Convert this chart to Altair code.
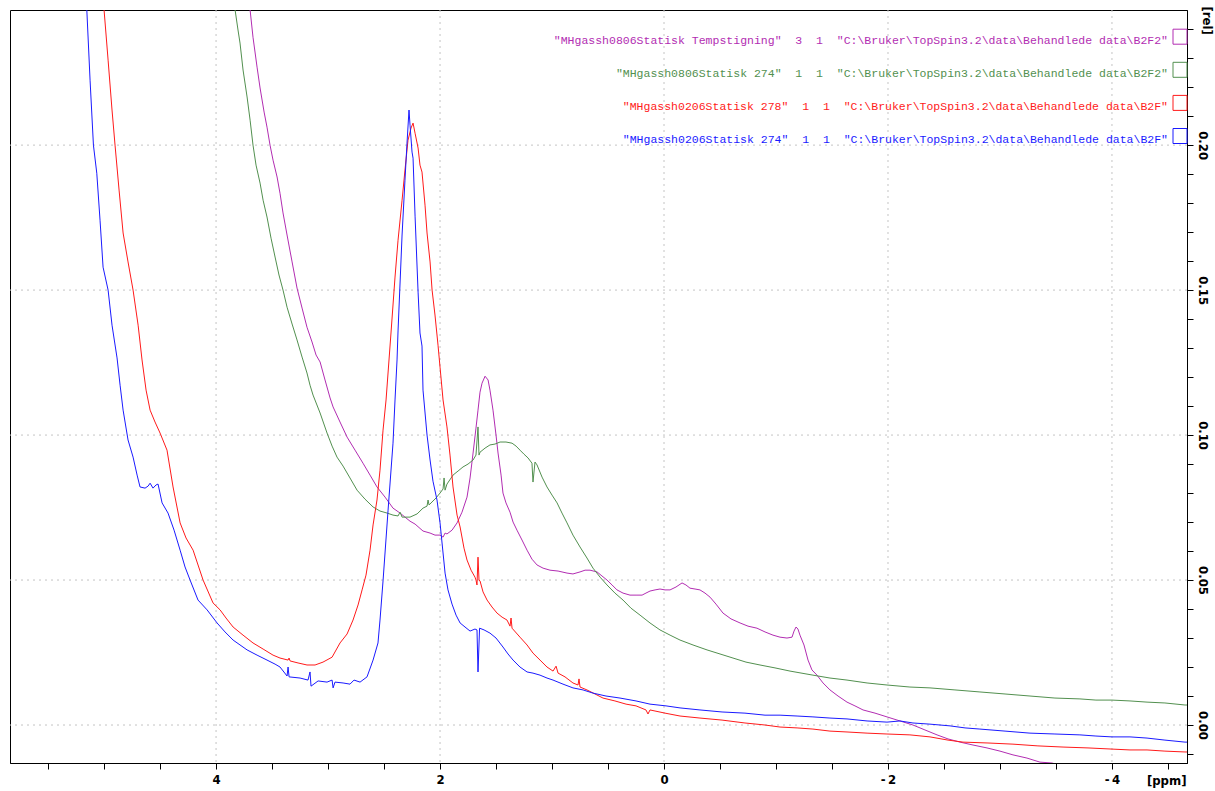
import altair as alt
import pandas as pd

# Spectra: (chemical shift in ppm, relative intensity)
magenta = [
    (3.714, 0.2603), (3.696, 0.2466), (3.670, 0.2372), (3.634, 0.2269), (3.607, 0.2197), (3.571, 0.2114),
    (3.545, 0.2062), (3.518, 0.2000), (3.491, 0.1948), (3.455, 0.1890), (3.429, 0.1834), (3.402, 0.1766),
    (3.366, 0.1690), (3.321, 0.1597), (3.277, 0.1507), (3.232, 0.1438), (3.188, 0.1372), (3.143, 0.1321),
    (3.107, 0.1276), (3.071, 0.1252), (3.027, 0.1190), (2.982, 0.1128), (2.955, 0.1097), (2.893, 0.1045),
    (2.830, 0.0993), (2.759, 0.0948), (2.688, 0.0903), (2.625, 0.0862), (2.563, 0.0821), (2.491, 0.0786),
    (2.420, 0.0748), (2.357, 0.0731), (2.313, 0.0717), (2.268, 0.0703), (2.223, 0.0693), (2.152, 0.0669),
    (2.089, 0.0662), (2.045, 0.0655), (2.000, 0.0655), (1.973, 0.0648), (1.955, 0.0662), (1.938, 0.0659),
    (1.893, 0.0672), (1.848, 0.0697), (1.804, 0.0734), (1.759, 0.0786), (1.732, 0.0852), (1.705, 0.0938),
    (1.679, 0.1024), (1.661, 0.1086), (1.643, 0.1148), (1.625, 0.1179), (1.598, 0.1203), (1.571, 0.1190),
    (1.554, 0.1155), (1.527, 0.1086), (1.500, 0.1000), (1.482, 0.0938), (1.455, 0.0862), (1.438, 0.0800),
    (1.411, 0.0766), (1.375, 0.0734), (1.348, 0.0700), (1.313, 0.0672), (1.268, 0.0638), (1.223, 0.0603),
    (1.179, 0.0572), (1.134, 0.0552), (1.080, 0.0541), (1.018, 0.0534), (0.946, 0.0531), (0.866, 0.0524),
    (0.813, 0.0521), (0.750, 0.0528), (0.705, 0.0534), (0.661, 0.0534), (0.598, 0.0528), (0.554, 0.0514),
    (0.509, 0.0500), (0.464, 0.0483), (0.420, 0.0466), (0.366, 0.0455), (0.304, 0.0448), (0.250, 0.0448),
    (0.196, 0.0448), (0.161, 0.0455), (0.125, 0.0462), (0.080, 0.0466), (0.036, 0.0469), (-0.009, 0.0466),
    (-0.054, 0.0466), (-0.107, 0.0476), (-0.161, 0.0490), (-0.196, 0.0483), (-0.232, 0.0472), (-0.277, 0.0469),
    (-0.321, 0.0466), (-0.366, 0.0455), (-0.411, 0.0441), (-0.464, 0.0417), (-0.527, 0.0386), (-0.598, 0.0366),
    (-0.679, 0.0352), (-0.750, 0.0341), (-0.830, 0.0334), (-0.902, 0.0321), (-0.973, 0.0310), (-1.036, 0.0303),
    (-1.098, 0.0300), (-1.143, 0.0303), (-1.161, 0.0324), (-1.179, 0.0338), (-1.196, 0.0331), (-1.214, 0.0310),
    (-1.250, 0.0276), (-1.286, 0.0224), (-1.321, 0.0190), (-1.366, 0.0172), (-1.420, 0.0145), (-1.482, 0.0121),
    (-1.554, 0.0100), (-1.634, 0.0079), (-1.705, 0.0066), (-1.777, 0.0052), (-1.884, 0.0041), (-1.991, 0.0028),
    (-2.107, 0.0014), (-2.223, 0.0000), (-2.330, -0.0017), (-2.438, -0.0034), (-2.536, -0.0048), (-2.643, -0.0059),
    (-2.759, -0.0069), (-2.884, -0.0079), (-3.000, -0.0090), (-3.116, -0.0103), (-3.241, -0.0114), (-3.357, -0.0128),
    (-3.464, -0.0131), (-3.625, -0.0148), (-3.893, -0.0176),
]

green = [
    (3.848, 0.2603), (3.830, 0.2466), (3.804, 0.2397), (3.786, 0.2352), (3.759, 0.2259), (3.723, 0.2166),
    (3.696, 0.2086), (3.670, 0.2000), (3.643, 0.1931), (3.607, 0.1869), (3.580, 0.1810), (3.545, 0.1752),
    (3.509, 0.1679), (3.473, 0.1614), (3.438, 0.1552), (3.402, 0.1500), (3.366, 0.1441), (3.321, 0.1383),
    (3.277, 0.1328), (3.232, 0.1269), (3.188, 0.1214), (3.161, 0.1172), (3.134, 0.1138), (3.071, 0.1076),
    (3.009, 0.1007), (2.964, 0.0962), (2.920, 0.0924), (2.866, 0.0893), (2.804, 0.0852), (2.741, 0.0810),
    (2.670, 0.0779), (2.598, 0.0752), (2.536, 0.0738), (2.473, 0.0731), (2.420, 0.0724), (2.375, 0.0721),
    (2.357, 0.0734), (2.339, 0.0717), (2.268, 0.0717), (2.205, 0.0728), (2.152, 0.0748), (2.116, 0.0755),
    (2.107, 0.0776), (2.098, 0.0759), (2.036, 0.0783), (2.000, 0.0800), (1.973, 0.0814), (1.964, 0.0852),
    (1.955, 0.0810), (1.938, 0.0831), (1.884, 0.0862), (1.839, 0.0876), (1.795, 0.0890), (1.750, 0.0900),
    (1.705, 0.0914), (1.679, 0.0931), (1.661, 0.1028), (1.652, 0.0931), (1.643, 0.0941), (1.598, 0.0955),
    (1.554, 0.0966), (1.509, 0.0969), (1.464, 0.0976), (1.411, 0.0976), (1.357, 0.0972), (1.321, 0.0962),
    (1.286, 0.0948), (1.250, 0.0934), (1.214, 0.0921), (1.179, 0.0903), (1.170, 0.0838), (1.152, 0.0907),
    (1.134, 0.0897), (1.089, 0.0855), (1.045, 0.0821), (1.000, 0.0793), (0.955, 0.0766), (0.911, 0.0731),
    (0.866, 0.0697), (0.813, 0.0655), (0.750, 0.0614), (0.688, 0.0576), (0.634, 0.0541), (0.571, 0.0510),
    (0.509, 0.0483), (0.438, 0.0455), (0.366, 0.0431), (0.295, 0.0403), (0.214, 0.0379), (0.125, 0.0352),
    (0.036, 0.0328), (-0.054, 0.0310), (-0.143, 0.0293), (-0.259, 0.0276), (-0.384, 0.0259), (-0.500, 0.0245),
    (-0.616, 0.0231), (-0.732, 0.0217), (-0.857, 0.0207), (-0.991, 0.0197), (-1.125, 0.0186), (-1.330, 0.0172),
    (-1.482, 0.0162), (-1.634, 0.0155), (-1.813, 0.0145), (-1.991, 0.0138), (-2.196, 0.0131), (-2.375, 0.0128),
    (-2.598, 0.0121), (-2.821, 0.0114), (-3.045, 0.0107), (-3.268, 0.0100), (-3.491, 0.0093), (-3.714, 0.0090),
    (-3.857, 0.0086), (-4.000, 0.0086), (-4.161, 0.0083), (-4.313, 0.0079), (-4.473, 0.0076), (-4.652, 0.0069),
    (-4.700, 0.0069),
]

red = [
    (5.018, 0.2603), (5.000, 0.2466), (4.964, 0.2293), (4.929, 0.2121), (4.902, 0.2000), (4.866, 0.1845),
    (4.830, 0.1697), (4.786, 0.1597), (4.741, 0.1500), (4.696, 0.1379), (4.661, 0.1259), (4.625, 0.1155),
    (4.589, 0.1086), (4.545, 0.1045), (4.500, 0.1007), (4.438, 0.0948), (4.384, 0.0821), (4.321, 0.0697),
    (4.268, 0.0645), (4.205, 0.0603), (4.116, 0.0500), (4.027, 0.0421), (3.964, 0.0397), (3.911, 0.0369),
    (3.848, 0.0338), (3.759, 0.0310), (3.670, 0.0283), (3.580, 0.0262), (3.491, 0.0241), (3.429, 0.0231),
    (3.357, 0.0224), (3.348, 0.0231), (3.339, 0.0221), (3.268, 0.0214), (3.188, 0.0207), (3.116, 0.0207),
    (3.045, 0.0217), (2.964, 0.0234), (2.893, 0.0283), (2.830, 0.0314), (2.777, 0.0362), (2.732, 0.0414),
    (2.696, 0.0466), (2.661, 0.0517), (2.625, 0.0603), (2.598, 0.0690), (2.563, 0.0776), (2.536, 0.0879),
    (2.509, 0.1017), (2.482, 0.1121), (2.438, 0.1352), (2.402, 0.1545), (2.375, 0.1672), (2.339, 0.1810),
    (2.313, 0.1914), (2.286, 0.2017), (2.259, 0.2059), (2.241, 0.2076), (2.223, 0.2041), (2.196, 0.1990),
    (2.179, 0.1931), (2.161, 0.1907), (2.134, 0.1793), (2.116, 0.1697), (2.089, 0.1597), (2.071, 0.1500),
    (2.045, 0.1414), (2.018, 0.1310), (2.000, 0.1234), (1.973, 0.1121), (1.938, 0.1028), (1.911, 0.0931),
    (1.884, 0.0821), (1.848, 0.0724), (1.821, 0.0683), (1.786, 0.0610), (1.759, 0.0569), (1.723, 0.0534),
    (1.688, 0.0510), (1.679, 0.0500), (1.670, 0.0483), (1.661, 0.0579), (1.652, 0.0500), (1.643, 0.0497),
    (1.616, 0.0459), (1.580, 0.0431), (1.536, 0.0407), (1.491, 0.0386), (1.446, 0.0372), (1.402, 0.0362),
    (1.375, 0.0341), (1.366, 0.0369), (1.357, 0.0334), (1.286, 0.0303), (1.223, 0.0276), (1.170, 0.0248),
    (1.107, 0.0224), (1.045, 0.0200), (0.991, 0.0186), (0.964, 0.0203), (0.946, 0.0179), (0.884, 0.0166),
    (0.813, 0.0145), (0.768, 0.0138), (0.759, 0.0159), (0.750, 0.0131), (0.688, 0.0121), (0.616, 0.0107),
    (0.545, 0.0093), (0.438, 0.0083), (0.339, 0.0072), (0.250, 0.0066), (0.161, 0.0052), (0.143, 0.0038),
    (0.125, 0.0052), (-0.009, 0.0041), (-0.143, 0.0031), (-0.321, 0.0024), (-0.518, 0.0017), (-0.723, 0.0007),
    (-0.902, 0.0000), (-1.036, -0.0007), (-1.188, -0.0010), (-1.330, -0.0014), (-1.482, -0.0021), (-1.634, -0.0024),
    (-1.813, -0.0028), (-1.991, -0.0031), (-2.196, -0.0034), (-2.375, -0.0041), (-2.536, -0.0052), (-2.670, -0.0059),
    (-2.893, -0.0062), (-3.116, -0.0066), (-3.339, -0.0072), (-3.563, -0.0076), (-3.786, -0.0079), (-4.000, -0.0083),
    (-4.161, -0.0086), (-4.313, -0.0086), (-4.473, -0.0090), (-4.652, -0.0093), (-4.700, -0.0093),
]

blue = [
    (5.170, 0.2603), (5.154, 0.2466), (5.125, 0.2224), (5.095, 0.2000), (5.065, 0.1903), (5.036, 0.1741),
    (5.009, 0.1579), (4.964, 0.1500), (4.929, 0.1379), (4.884, 0.1266), (4.857, 0.1172), (4.830, 0.1086),
    (4.786, 0.0983), (4.741, 0.0924), (4.705, 0.0862), (4.679, 0.0821), (4.634, 0.0817), (4.607, 0.0824),
    (4.589, 0.0834), (4.563, 0.0817), (4.536, 0.0828), (4.518, 0.0831), (4.482, 0.0766), (4.429, 0.0731),
    (4.375, 0.0672), (4.321, 0.0603), (4.277, 0.0545), (4.232, 0.0500), (4.161, 0.0431), (4.080, 0.0397),
    (3.991, 0.0352), (3.920, 0.0321), (3.848, 0.0293), (3.723, 0.0259), (3.634, 0.0241), (3.545, 0.0224),
    (3.473, 0.0210), (3.429, 0.0200), (3.366, 0.0169), (3.357, 0.0200), (3.348, 0.0166), (3.250, 0.0162),
    (3.179, 0.0155), (3.161, 0.0183), (3.152, 0.0134), (3.089, 0.0152), (3.009, 0.0148), (2.964, 0.0155),
    (2.955, 0.0128), (2.938, 0.0148), (2.866, 0.0145), (2.804, 0.0141), (2.768, 0.0155), (2.714, 0.0148),
    (2.652, 0.0166), (2.598, 0.0224), (2.554, 0.0283), (2.536, 0.0362), (2.509, 0.0497), (2.464, 0.0741),
    (2.420, 0.0972), (2.402, 0.1121), (2.384, 0.1259), (2.375, 0.1359), (2.339, 0.1690), (2.313, 0.1879),
    (2.295, 0.2007), (2.277, 0.2121), (2.268, 0.2069), (2.250, 0.1976), (2.241, 0.1955), (2.223, 0.1755),
    (2.196, 0.1493), (2.179, 0.1352), (2.161, 0.1307), (2.152, 0.1155), (2.116, 0.1000), (2.089, 0.0914),
    (2.063, 0.0841), (2.027, 0.0776), (2.000, 0.0697), (1.955, 0.0524), (1.929, 0.0466), (1.893, 0.0417),
    (1.857, 0.0379), (1.821, 0.0352), (1.777, 0.0338), (1.732, 0.0324), (1.688, 0.0331), (1.670, 0.0328),
    (1.661, 0.0183), (1.647, 0.0334), (1.607, 0.0328), (1.554, 0.0317), (1.500, 0.0300), (1.438, 0.0269),
    (1.393, 0.0245), (1.348, 0.0224), (1.286, 0.0200), (1.223, 0.0183), (1.170, 0.0179), (1.107, 0.0172),
    (1.045, 0.0162), (0.991, 0.0155), (0.902, 0.0141), (0.813, 0.0128), (0.723, 0.0121), (0.634, 0.0110),
    (0.518, 0.0100), (0.393, 0.0093), (0.250, 0.0083), (0.125, 0.0072), (-0.018, 0.0066), (-0.143, 0.0059),
    (-0.321, 0.0052), (-0.518, 0.0045), (-0.723, 0.0041), (-0.902, 0.0034), (-1.036, 0.0034), (-1.188, 0.0031),
    (-1.330, 0.0028), (-1.482, 0.0024), (-1.634, 0.0021), (-1.813, 0.0014), (-1.991, 0.0010), (-2.107, 0.0014),
    (-2.223, 0.0007), (-2.375, 0.0003), (-2.554, -0.0003), (-2.688, -0.0010), (-2.821, -0.0014), (-3.045, -0.0021),
    (-3.268, -0.0028), (-3.491, -0.0031), (-3.714, -0.0034), (-3.857, -0.0038), (-4.000, -0.0041), (-4.161, -0.0041),
    (-4.313, -0.0045), (-4.473, -0.0052), (-4.652, -0.0059), (-4.700, -0.0059),
]

series_names = ["Tempstigning", "0806 274", "0206 278", "0206 274"]
series_colors = ["#b22db2", "#52904f", "#ff1a1a", "#1a1aff"]
series_points = [magenta, green, red, blue]

legend_labels = [
    '"MHgassh0806Statisk Tempstigning"  3  1  "C:\\Bruker\\TopSpin3.2\\data\\Behandlede data\\B2F2"',
    '"MHgassh0806Statisk 274"  1  1  "C:\\Bruker\\TopSpin3.2\\data\\Behandlede data\\B2F2"',
    '"MHgassh0206Statisk 278"  1  1  "C:\\Bruker\\TopSpin3.2\\data\\Behandlede data\\B2F"',
    '"MHgassh0206Statisk 274"  1  1  "C:\\Bruker\\TopSpin3.2\\data\\Behandlede data\\B2F"',
]

x_ticks = [5.5, 5.0, 4.5, 4.0, 3.5, 3.0, 2.5, 2.0, 1.5, 1.0, 0.5, 0.0,
           -0.5, -1.0, -1.5, -2.0, -2.5, -3.0, -3.5, -4.0, -4.5]
y_ticks = [-0.01, 0.00, 0.01, 0.02, 0.03, 0.04, 0.05, 0.06, 0.07, 0.08, 0.09, 0.10, 0.11, 0.12,
           0.13, 0.14, 0.15, 0.16, 0.17, 0.18, 0.19, 0.20, 0.21, 0.22, 0.23, 0.24]
grid_x = [4, 2, 0, -2, -4]
grid_y = [0.0, 0.05, 0.10, 0.15, 0.20]

# ---- tables -------------------------------------------------------------
rows = []
for name, pts in zip(series_names, series_points):
    for i, (p, v) in enumerate(pts):
        rows.append({"series": name, "ppm": p, "rel": v, "idx": i})
spectra = pd.DataFrame(rows)

legend_df = pd.DataFrame({
    "series": series_names,
    "label": [s.replace(" ", "\u00a0") for s in legend_labels],
    "k": list(range(len(series_names))),
})

W, H = 1177, 753
AXIS_FONT = "DejaVu Sans Condensed, DejaVu Sans, sans-serif"

x_scale = alt.Scale(domain=[-4.67, 5.84], reverse=True, nice=False, zero=False)
y_scale = alt.Scale(domain=[-0.0131, 0.2466], nice=False, zero=False)

x_axis = alt.Axis(
    values=x_ticks,
    labelExpr="datum.value % 2 === 0 ? (datum.value < 0 ? '-\u2009' + (-datum.value) : '' + datum.value) : ''",
    grid=False, tickSize=6, tickColor="black", domainColor="black",
    labelFont=AXIS_FONT, labelFontSize=13, labelFontWeight="bold", labelColor="black",
    labelPadding=4, labelBaseline="top", labelFlush=False, labelOverlap=False,
    title="[ppm]", titleFont=AXIS_FONT, titleFontSize=13, titleFontWeight="bold",
    titleColor="black", titleX=W - 1, titleY=11, titleAlign="right", titleBaseline="top",
)
y_axis = alt.Axis(
    orient="right", values=y_ticks,
    labelExpr="round(datum.value * 100) % 5 === 0 ? format(datum.value, '.2f') : ''",
    grid=False, tickSize=6, tickColor="black", domainColor="black",
    labelFont=AXIS_FONT, labelFontSize=13, labelFontWeight="bold", labelColor="black",
    labelAngle=90, labelAlign="center", labelBaseline="bottom", labelPadding=2,
    labelFlush=False, labelOverlap=False,
    title="[rel]", titleFont=AXIS_FONT, titleFontSize=13, titleFontWeight="bold",
    titleColor="black", titleAngle=90, titleX=12, titleY=-4,
    titleAlign="left", titleBaseline="bottom",
)

color = alt.Color("series:N", scale=alt.Scale(domain=series_names, range=series_colors), legend=None)

gx = alt.Chart(pd.DataFrame({"g": grid_x})).mark_rule(
    color="#c4c4c4", strokeDash=[2, 4], strokeWidth=1
).encode(x=alt.X("g:Q", scale=x_scale, axis=x_axis))

gy = alt.Chart(pd.DataFrame({"g": grid_y})).mark_rule(
    color="#c4c4c4", strokeDash=[2, 4], strokeWidth=1
).encode(y=alt.Y("g:Q", scale=y_scale, axis=y_axis))

lines = alt.Chart(spectra).mark_line(clip=True, strokeWidth=1, interpolate="linear").encode(
    x=alt.X("ppm:Q", scale=x_scale, axis=x_axis),
    y=alt.Y("rel:Q", scale=y_scale, axis=y_axis),
    color=color,
    order="idx:Q",
    detail="series:N",
)

# legend entries in the top-right corner of the plot
legend_base = alt.Chart(legend_df).transform_calculate(
    tx="1158", ty="30.7 + 33.1 * datum.k"
).transform_calculate(
    bx1="1163", bx2="1177", by1="datum.ty - 11.5", by2="datum.ty + 3.5"
)

legend_text = legend_base.mark_text(
    align="right", baseline="middle", font="Liberation Mono, Courier New, monospace", fontSize=11.5
).encode(
    x=alt.X("tx:Q", scale=None),
    y=alt.Y("ty:Q", scale=None),
    text="label:N",
    color=color,
)

legend_box = legend_base.mark_rect(filled=False, strokeWidth=1).encode(
    x=alt.X("bx1:Q", scale=None),
    x2="bx2:Q",
    y=alt.Y("by1:Q", scale=None),
    y2="by2:Q",
    stroke=alt.Stroke("series:N", scale=alt.Scale(domain=series_names, range=series_colors), legend=None),
)

chart = alt.layer(gx, gy, lines, legend_text, legend_box).properties(
    width=W, height=H,
    padding={"left": 10, "top": 10, "right": 28, "bottom": 28},
    autosize=alt.AutoSizeParams(type="none"),
    background="white",
).configure_view(stroke="black", strokeWidth=1)

chart.save("out.html", embed_options={"renderer": "svg", "actions": False})
